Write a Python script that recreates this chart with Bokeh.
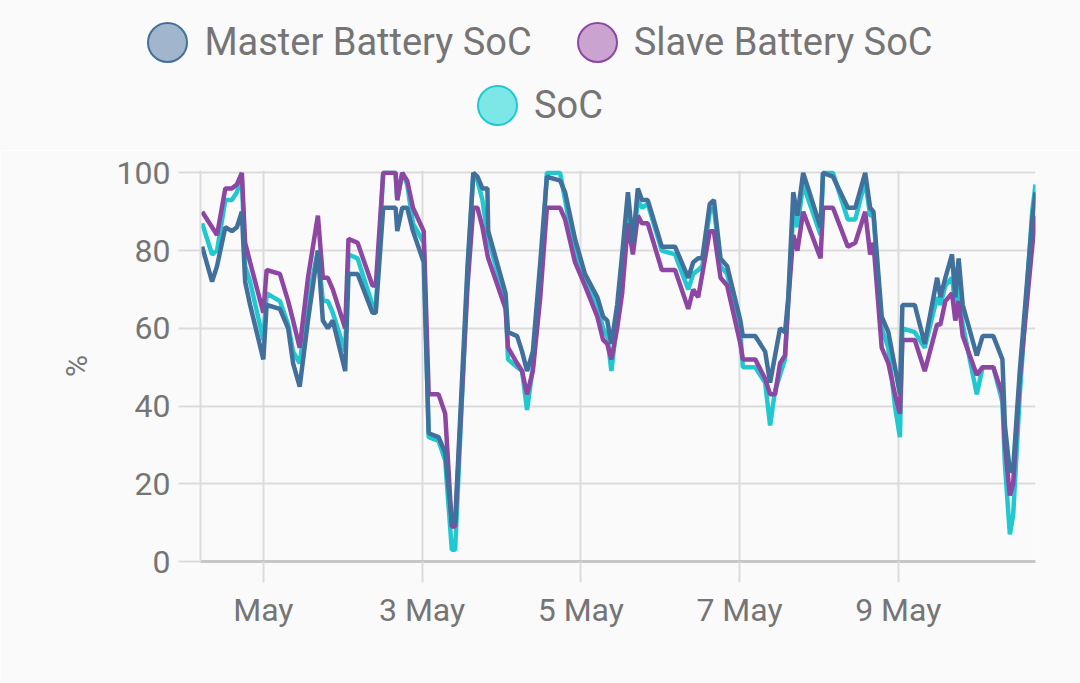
import pandas as pd
from bokeh.plotting import figure
from bokeh.layouts import column
from bokeh.models import Range1d, FixedTicker, Div
from bokeh.embed import file_html
from bokeh.resources import INLINE

# readings (approximate)
times = [
    "04-30 05:30", "04-30 08:30", "04-30 10:00", "04-30 12:30", "04-30 14:30", "04-30 16:00", "04-30 17:30", "04-30 18:30", "04-30 20:00",
    "05-01 00:00", "05-01 01:00", "05-01 05:00", "05-01 07:30", "05-01 09:00", "05-01 11:00", "05-01 13:30", "05-01 16:30", "05-01 18:00", "05-01 19:30", "05-01 21:00",
    "05-02 00:45", "05-02 01:45", "05-02 04:30", "05-02 09:00", "05-02 10:00", "05-02 12:15", "05-02 16:00", "05-02 16:30", "05-02 18:00", "05-02 19:30", "05-02 21:15",
    "05-03 00:30", "05-03 02:00", "05-03 05:00", "05-03 07:00", "05-03 09:00", "05-03 10:00", "05-03 13:45", "05-03 15:30", "05-03 16:45", "05-03 18:15", "05-03 19:45", "05-03 20:00",
    "05-04 01:15", "05-04 02:00", "05-04 04:45", "05-04 06:15", "05-04 07:45", "05-04 09:30", "05-04 11:45", "05-04 13:45", "05-04 17:45", "05-04 19:15", "05-04 22:15",
    "05-05 01:15", "05-05 05:00", "05-05 06:45", "05-05 08:00", "05-05 09:15", "05-05 11:00", "05-05 12:30", "05-05 14:15", "05-05 15:45", "05-05 17:15", "05-05 18:30", "05-05 20:15",
    "05-06 00:30", "05-06 04:30", "05-06 08:30", "05-06 10:00", "05-06 11:30", "05-06 12:45", "05-06 15:00", "05-06 16:15", "05-06 18:15", "05-06 20:15",
    "05-07 00:15", "05-07 01:00", "05-07 04:45", "05-07 07:45", "05-07 09:15", "05-07 10:45", "05-07 12:15", "05-07 13:45", "05-07 14:45", "05-07 16:15", "05-07 17:30", "05-07 19:15",
    "05-08 00:30", "05-08 01:15", "05-08 04:15", "05-08 08:45", "05-08 11:00", "05-08 14:00", "05-08 15:30", "05-08 16:30", "05-08 19:00", "05-08 21:00", "05-08 23:00",
    "05-09 00:30", "05-09 01:15", "05-09 05:00", "05-09 08:00", "05-09 11:45", "05-09 12:45", "05-09 14:15", "05-09 16:15", "05-09 17:15", "05-09 18:15", "05-09 19:30", "05-09 23:45",
    "05-10 01:30", "05-10 04:45", "05-10 07:30", "05-10 08:15", "05-10 09:45", "05-10 10:45", "05-10 12:45", "05-10 16:30", "05-10 17:30",
]

master_soc = [
    81, 72, 76, 86, 85, 86, 90, 72, 66,
    52, 66, 65, 60, 51, 45, 62, 80, 62, 60, 62,
    49, 74, 74, 64, 64, 91, 91, 85, 91, 91, 85,
    77, 33, 32, 28, 10, 10, 76, 100, 99, 96, 96, 85,
    69, 59, 58, 54, 49, 54, 77, 99, 98, 95, 83,
    74, 68, 63, 62, 56, 66, 79, 95, 82, 96, 93, 93,
    81, 81, 73, 77, 78, 78, 92, 93, 78, 76,
    62, 58, 58, 54, 46, 53, 60, 59, 68, 95, 89, 100,
    86, 100, 99, 91, 91, 100, 91, 90, 63, 59, 50,
    43, 66, 66, 56, 73, 68, 73, 79, 68, 78, 66, 53,
    58, 58, 52, 35, 23, 24, 49, 88, 95,
]

slave_soc = [
    90, 86, 84, 96, 96, 97, 100, 82, 77,
    64, 75, 74, 67, 62, 55, 73, 89, 73, 73, 70,
    60, 83, 82, 71, 71, 100, 100, 93, 100, 98, 91,
    85, 43, 43, 38, 9, 9, 71, 91, 91, 86, 79, 78,
    65, 55, 51, 49, 43, 49, 68, 91, 91, 88, 77,
    71, 63, 57, 56, 52, 60, 69, 87, 79, 89, 87, 87,
    75, 75, 65, 70, 68, 74, 85, 85, 73, 71,
    56, 52, 52, 47, 43, 43, 51, 53, 67, 84, 80, 90,
    78, 91, 91, 81, 82, 90, 79, 82, 55, 51, 43,
    38, 57, 57, 49, 61, 61, 67, 69, 62, 67, 58, 48,
    50, 50, 43, 30, 17, 20, 47, 81, 89,
]

soc = [
    87, 79, 80, 93, 93, 95, 99, 76, 72,
    57, 69, 67, 61, 54, 51, 67, 80, 67, 67, 64,
    54, 79, 78, 66, 65, 100, 100, 93, 100, 97, 87,
    82, 32, 31, 26, 3, 3, 74, 100, 98, 93, 84, 83,
    67, 52, 50, 49, 39, 50, 72, 100, 100, 93, 79,
    72, 66, 60, 58, 49, 62, 75, 92, 81, 93, 91, 92,
    80, 79, 70, 74, 75, 76, 90, 91, 76, 74,
    59, 50, 50, 46, 35, 44, 48, 52, 67, 90, 86, 97,
    84, 100, 100, 88, 88, 98, 89, 89, 60, 55, 40,
    32, 60, 59, 55, 68, 66, 71, 73, 66, 72, 61, 43,
    50, 50, 41, 25, 7, 12, 43, 90, 97,
]

series_names = ["Master Battery SoC", "Slave Battery SoC", "SoC"]
x_tick_dates = ["05-01", "05-03", "05-05", "05-07", "05-09"]
x_tick_labels = ["May", "3 May", "5 May", "7 May", "9 May"]
y_ticks = [0, 20, 40, 60, 80, 100]

YEAR = "2023-"
FONT = "Roboto"
GREY = "#757575"
GRID = "#DCDCDC"
BG = "#FAFAFA"

line_colors = {"Master Battery SoC": "#41709C", "Slave Battery SoC": "#8D46A2", "SoC": "#22C8D0"}
fill_colors = {"Master Battery SoC": "#A1B5CC", "Slave Battery SoC": "#CBA3D1", "SoC": "#7DE7E7"}

t = pd.to_datetime([YEAR + s for s in times])
tick_ms = [pd.Timestamp(YEAR + d).value / 1e6 for d in x_tick_dates]


def legend_item(name, last=False):
    dot = ('<span style="display:inline-block;width:41px;height:41px;border-radius:50%;'
           f'background:{fill_colors[name]};border:2px solid {line_colors[name]};margin-right:16px"></span>')
    gap = "0" if last else "45px"
    return f'{dot}<span style="margin-right:{gap}">{name}</span>'


row_style = "display:flex;justify-content:center;align-items:center;height:63px;white-space:nowrap"
legend_html = (
    f'<div style="width:1080px;height:150px;background:{BG};font-family:{FONT};font-size:38px;'
    f'color:{GREY};padding-top:11px;box-sizing:border-box">'
    f'<div style="{row_style}">{legend_item(series_names[0])}{legend_item(series_names[1], True)}</div>'
    f'<div style="{row_style}">{legend_item(series_names[2], True)}</div>'
    '</div>'
)
leg = Div(text=legend_html, width=1080, height=150, margin=0)

# ---- main chart ----
p = figure(width=1080, height=533, x_axis_type="datetime",
           x_range=Range1d(pd.Timestamp(YEAR + "04-30 05:00"), pd.Timestamp(YEAR + "05-10 17:30")),
           y_range=Range1d(0, 100.6),
           toolbar_location=None, output_backend="svg",
           min_border_left=200, min_border_right=45, min_border_top=20, min_border_bottom=122)
p.background_fill_color = BG
p.border_fill_color = BG
p.outline_line_color = None

p.line(t, soc, line_color=line_colors["SoC"], line_width=4.5)
p.line(t, slave_soc, line_color=line_colors["Slave Battery SoC"], line_width=4.5)
p.line(t, master_soc, line_color=line_colors["Master Battery SoC"], line_width=4.5)

p.yaxis.ticker = FixedTicker(ticks=y_ticks)
p.ygrid.ticker = FixedTicker(ticks=y_ticks)
p.xaxis.ticker = FixedTicker(ticks=tick_ms)
p.xgrid.ticker = FixedTicker(ticks=tick_ms)
p.xaxis.major_label_overrides = dict(zip(tick_ms, x_tick_labels))

for ax in (p.xaxis[0], p.yaxis[0]):
    ax.major_tick_in = 0
    ax.minor_tick_line_color = None
    ax.major_tick_line_color = GRID
    ax.major_tick_line_width = 2
    ax.major_label_text_font = FONT
    ax.major_label_text_font_size = "32px"
    ax.major_label_text_color = GREY

p.yaxis.major_tick_out = 22
p.yaxis.axis_line_color = GRID
p.yaxis.axis_line_width = 2
p.yaxis.major_label_standoff = 8
p.yaxis.axis_label = "%"
p.yaxis.axis_label_text_font = FONT
p.yaxis.axis_label_text_font_size = "30px"
p.yaxis.axis_label_text_font_style = "normal"
p.yaxis.axis_label_text_color = GREY
p.yaxis.axis_label_standoff = 20

p.xaxis.major_tick_out = 21
p.xaxis.axis_line_color = "#C6C6C6"
p.xaxis.axis_line_width = 3
p.xaxis.major_label_standoff = 8

p.grid.grid_line_color = GRID
p.grid.grid_line_width = 2

open("out.html", "w").write(file_html(column(leg, p, spacing=0), INLINE))
